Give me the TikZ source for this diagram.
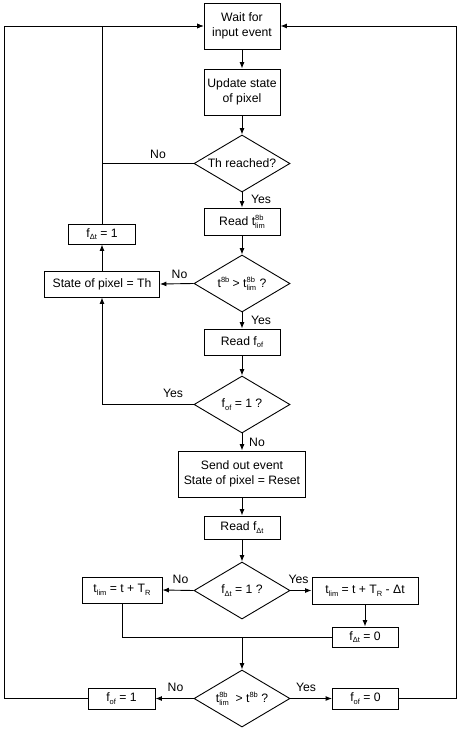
\documentclass[tikz,border=0pt]{standalone}
\usepackage{fontspec}
\setmainfont{Liberation Sans}
\usetikzlibrary{shapes.geometric,arrows.meta}
\newcommand\mysub[1]{\raisebox{-2.6pt}{\fontsize{7.5}{8}\selectfont #1}}
\newcommand\mysupsub[2]{\raisebox{-2.6pt}{\fontsize{7.5}{8}\selectfont\rlap{\raisebox{7.6pt}{#1}}#2}}
\newcommand\mysup[1]{\raisebox{5pt}{\fontsize{7.5}{8}\selectfont #1}}
\newcommand\zw[1]{\makebox[0pt]{#1}}
\begin{document}
\begin{tikzpicture}[x=1pt,y=-1pt,
  every node/.style={font=\fontsize{12.2}{14.5}\selectfont},
  box/.style={draw,line width=0.9pt,rectangle,inner sep=0pt,align=center},
  dia/.style={draw,line width=0.9pt,diamond,inner sep=0pt,minimum width=96pt,minimum height=57pt},
  lab/.style={inner sep=0pt},
  ln/.style={line width=0.9pt},
  arr/.style={line width=0.9pt,-{Latex[length=6.5pt,width=5pt]}}]
\useasboundingbox (0,0) rectangle (459,731);
% main column
\node[box,minimum width=76pt,minimum height=46pt] (wait) at (242,26) {Wait for\\input event};
\node[box,minimum width=76pt,minimum height=46pt] (upd) at (242,92) {Update state\\of pixel};
\node[dia] (d1) at (242,163.5) {\zw{Th reached?}};
\node[box,minimum width=76pt,minimum height=27pt] (readt) at (242,221.5) {Read t\mysupsub{8b}{lim}};
\node[dia] (d2) at (242,283.5) {\zw{t\mysup{8b} > t\mysupsub{8b}{lim} ?}};
\node[box,minimum width=76pt,minimum height=26pt] (readfof) at (242,342) {Read f\mysub{of}};
\node[dia] (d3) at (242,404.5) {\zw{f\mysub{of} = 1 ?}};
\node[box,minimum width=127pt,minimum height=46pt] (send) at (242,474) {Send out event\\State of pixel = Reset};
\node[box,minimum width=76pt,minimum height=23pt] (readfdt) at (242,527.5) {Read f\mysub{Δt}};
\node[dia] (d4) at (242,590.5) {\zw{f\mysub{Δt} = 1 ?}};
\node[dia] (d5) at (242,698.5) {\zw{t\mysupsub{8b}{lim}\ \ > t\mysup{8b} ?}};
% side boxes
\node[box,minimum width=67pt,minimum height=20pt] (fdt1) at (102,234) {f\mysub{Δt} = 1};
\node[box,minimum width=115pt,minimum height=26pt] (stateTh) at (102,284) {State of pixel = Th};
\node[box,minimum width=80pt,minimum height=26pt] (tl1) at (122,590) {t\mysub{lim} = t + T\mysub{R}};
\node[box,minimum width=106pt,minimum height=27pt] (tl2) at (365,590.5) {t\mysub{lim} = t + T\mysub{R} - Δt};
\node[box,minimum width=66pt,minimum height=20pt] (fdt0) at (365,637) {f\mysub{Δt} = 0};
\node[box,minimum width=67pt,minimum height=21pt] (fof1) at (121.5,698.5) {f\mysub{of} = 1};
\node[box,minimum width=66pt,minimum height=21pt] (fof0) at (365.5,698.5) {f\mysub{of} = 0};
% coordinates
\coordinate (n1) at (102,163.5);
\coordinate (j) at (242,637);
\coordinate (ll) at (4,698.5);
\coordinate (lt) at (4,26);
\coordinate (rl) at (456,698.5);
\coordinate (rt) at (456,26);
% connectors
\draw[arr] (wait) -- (upd);
\draw[arr] (upd) -- (d1);
\draw[arr] (d1) -- (readt);
\draw[arr] (readt) -- (d2);
\draw[arr] (d2) -- (readfof);
\draw[arr] (readfof) -- (d3);
\draw[arr] (d3) -- (send);
\draw[arr] (send) -- (readfdt);
\draw[arr] (readfdt) -- (d4);
\draw[ln] (d1.west) -- (n1);
\draw[arr] (fdt1.north) |- (wait.west);
\draw[arr] (d2.west) -- (stateTh.east);
\draw[arr] (stateTh.north) -- (fdt1.south);
\draw[arr] (d3.west) -| (stateTh.south);
\draw[arr] (d4.west) -- (tl1.east);
\draw[arr] (d4.east) -- (tl2.west);
\draw[arr] (tl2.south) -- (fdt0.north);
\draw[ln] (tl1.south) |- (fdt0.west);
\draw[arr] (j) -- (d5.north);
\draw[arr] (d5.west) -- (fof1.east);
\draw[arr] (d5.east) -- (fof0.west);
\draw[arr] (fof1.west) -- (ll) -- (lt) -- (wait.west);
\draw[arr] (fof0.east) -- (rl) -- (rt) -- (wait.east);
% labels
\node[lab] (l1) at (158,154) {No};
\node[lab] (l2) at (261,199) {Yes};
\node[lab] (l3) at (179.5,274) {No};
\node[lab] (l4) at (261,320) {Yes};
\node[lab] (l5) at (173,393) {Yes};
\node[lab] (l6) at (257,442) {No};
\node[lab] (l7) at (180.5,579) {No};
\node[lab] (l8) at (298.5,579) {Yes};
\node[lab] (l9) at (175.5,687) {No};
\node[lab] (l10) at (306,687) {Yes};
\end{tikzpicture}
\end{document}
